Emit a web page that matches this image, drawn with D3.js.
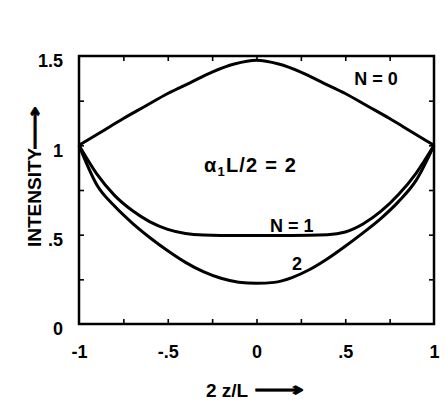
<!DOCTYPE html>
<html>
<head>
<meta charset="utf-8">
<script src="https://cdn.jsdelivr.net/npm/d3@7"></script>
<style>
  html, body { margin: 0; padding: 0; background: #fff; }
  svg { display: block; }
  text { font-family: "Liberation Sans", Arial, sans-serif; font-weight: bold; fill: #000; }
</style>
</head>
<body>
<svg id="chart" width="446" height="417"></svg>
<script>
// ---- data ----
const zN0 = [-1, -0.875, -0.75, -0.625, -0.5, -0.375, -0.25, -0.125, 0, 0.125, 0.25, 0.375, 0.5, 0.625, 0.75, 0.875, 1];
const iN0 = [1.0, 1.075, 1.15, 1.22, 1.29, 1.35, 1.41, 1.455, 1.476, 1.455, 1.41, 1.35, 1.29, 1.22, 1.15, 1.075, 1.0];

const zN1 = [-1, -0.9, -0.8, -0.7, -0.6, -0.5, -0.4, -0.3, -0.2, 0, 0.2, 0.4, 0.5, 0.6, 0.7, 0.8, 0.9, 1];
const iN1 = [1.0, 0.84, 0.72, 0.635, 0.572, 0.53, 0.507, 0.498, 0.496, 0.496, 0.496, 0.5, 0.515, 0.56, 0.63, 0.725, 0.845, 1.0];

const zN2 = [-1, -0.9, -0.8, -0.7, -0.6, -0.5, -0.4, -0.3, -0.2, -0.1, 0, 0.1, 0.2, 0.3, 0.4, 0.5, 0.6, 0.7, 0.8, 0.9, 1];
const iN2 = [1.0, 0.78, 0.66, 0.565, 0.483, 0.41, 0.345, 0.293, 0.256, 0.234, 0.228, 0.233, 0.26, 0.305, 0.365, 0.435, 0.51, 0.59, 0.685, 0.805, 1.0];

const xTickValues = [-1, -0.5, 0, 0.5, 1];
const xTickLabels = ["-1", "-.5", "0", ".5", "1"];
const xMinorTicks = [-0.75, -0.5, -0.25, 0, 0.25, 0.5, 0.75];
const yTickValues = [0, 0.5, 1, 1.5];
const yTickLabels = ["0", ".5", "1", "1.5"];
const yMinorTicks = [0.25, 0.5, 0.75, 1, 1.25];

const curveLabels = [
  { text: "N = 0", x: 0.55, y: 1.34 },
  { text: "N = 1", x: 0.076, y: 0.515 },
  { text: "2", x: 0.2, y: 0.30 }
];

// ---- layout ----
const svg = d3.select("#chart");
const mLeft = 79, mRight = 434, mTop = 56, mBottom = 324;
const x = d3.scaleLinear().domain([-1, 1]).range([mLeft, mRight]);
const y = d3.scaleLinear().domain([0, 1.5]).range([mBottom, mTop]);

// minor ticks (inside) on all four sides
const tickLen = 5;
function minor(g) {
  g.select(".domain").remove();
  g.selectAll("line").attr("stroke", "#000").attr("stroke-width", 1.6);
}
svg.append("g").attr("transform", `translate(0,${mBottom})`)
  .call(d3.axisBottom(x).tickValues(xMinorTicks).tickSize(-tickLen).tickFormat("")).call(minor);
svg.append("g").attr("transform", `translate(0,${mTop})`)
  .call(d3.axisTop(x).tickValues(xMinorTicks).tickSize(-tickLen).tickFormat("")).call(minor);
svg.append("g").attr("transform", `translate(${mLeft},0)`)
  .call(d3.axisLeft(y).tickValues(yMinorTicks).tickSize(-tickLen).tickFormat("")).call(minor);
svg.append("g").attr("transform", `translate(${mRight},0)`)
  .call(d3.axisRight(y).tickValues(yMinorTicks).tickSize(-tickLen).tickFormat("")).call(minor);

// tick labels
const xLab = svg.append("g").attr("transform", `translate(0,${mBottom + 34})`)
  .call(d3.axisBottom(x).tickValues(xTickValues).tickSize(0).tickPadding(0)
    .tickFormat((d, i) => xTickLabels[i]));
xLab.select(".domain").remove();
xLab.selectAll("text").attr("dy", 0).attr("font-size", 18)
  .style("font-family", '"Liberation Sans", Arial, sans-serif').style("font-weight", "bold");

const yLab = svg.append("g").attr("transform", `translate(${mLeft - 16},0)`)
  .call(d3.axisLeft(y).tickValues(yTickValues).tickSize(0).tickPadding(0)
    .tickFormat((d, i) => yTickLabels[i]));
yLab.select(".domain").remove();
yLab.selectAll("text").attr("dy", "0.6em").attr("font-size", 18)
  .style("font-family", '"Liberation Sans", Arial, sans-serif').style("font-weight", "bold");

// frame
svg.append("rect").attr("x", mLeft).attr("y", mTop)
  .attr("width", mRight - mLeft).attr("height", mBottom - mTop)
  .attr("fill", "none").attr("stroke", "#000").attr("stroke-width", 2.5);

// curves
const line = d3.line().curve(d3.curveMonotoneX);
const series = [[zN0, iN0], [zN1, iN1], [zN2, iN2]];
series.forEach(([zs, is]) => {
  svg.append("path")
    .attr("d", line(zs.map((z, i) => [x(z), y(is[i])])))
    .attr("fill", "none").attr("stroke", "#000").attr("stroke-width", 3)
    .attr("stroke-linejoin", "round");
});

// curve labels
curveLabels.forEach(l => {
  svg.append("text").attr("x", x(l.x)).attr("y", y(l.y))
    .attr("font-size", 18).text(l.text);
});

// parameter label
const p = svg.append("text").attr("x", 204).attr("y", 172).attr("font-size", 20)
  .attr("letter-spacing", 1.2);
p.append("tspan").text("α");
p.append("tspan").attr("font-size", 13).attr("dy", 4).text("1");
p.append("tspan").attr("dy", -4).text("L/2 = 2");

// axis titles
svg.append("text").attr("x", 206).attr("y", 397).attr("font-size", 19)
  .text("2 z/L");
svg.append("text").attr("x", 254).attr("y", 396).attr("font-size", 19)
  .attr("textLength", 50).attr("lengthAdjust", "spacingAndGlyphs")
  .attr("stroke", "#000").attr("stroke-width", 0.8)
  .style("font-family", '"DejaVu Sans", sans-serif').text("⟶");
svg.append("text")
  .attr("transform", "translate(41,247) rotate(-90)")
  .attr("font-size", 19).text("INTENSITY");
svg.append("text")
  .attr("transform", "translate(41,150) rotate(-90)")
  .attr("font-size", 19)
  .attr("textLength", 44).attr("lengthAdjust", "spacingAndGlyphs")
  .attr("stroke", "#000").attr("stroke-width", 0.8)
  .style("font-family", '"DejaVu Sans", sans-serif').text("⟶");
</script>
</body>
</html>
